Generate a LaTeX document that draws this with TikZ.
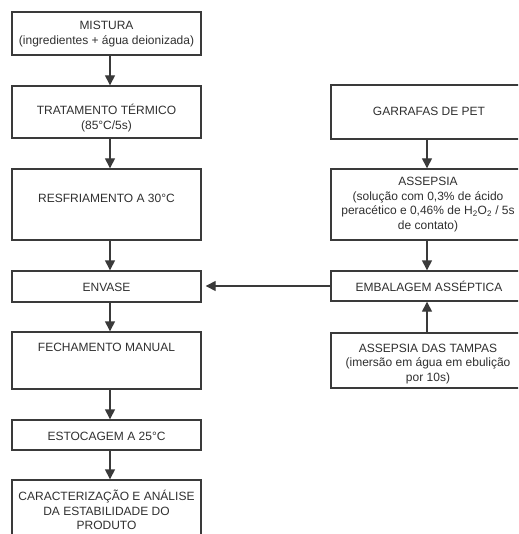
\documentclass[tikz,border=0pt]{standalone}
\usepackage{fontspec}
\setmainfont{Liberation Sans}
\usetikzlibrary{arrows.meta}
\definecolor{ln}{HTML}{3A3A3A}
\definecolor{tx}{HTML}{303030}
\begin{document}
\begin{tikzpicture}[x=1pt,y=-1pt,
  box/.style={draw=ln, line width=1.4pt, rectangle, inner sep=0pt},
  lbox/.style={box, minimum width=189pt},
  rbox/.style={box, minimum width=192pt},
  lbl/.style={text=tx, font=\fontsize{12}{14.5}\selectfont, align=center, inner sep=0pt},
  arr/.style={draw=ln, line width=1.4pt, -{Triangle[length=10pt,width=10pt]}}]
\clip (0,0) rectangle (518,534);
\fill[white] (0,0) rectangle (518,534);
% left column boxes
\node[lbox, minimum height=43pt] (b1) at (106.5,33.5) {};
\node[lbox, minimum height=52pt] (b2) at (106.5,112) {};
\node[lbox, minimum height=71pt] (b3) at (106.5,204.5) {};
\node[lbox, minimum height=31pt] (b4) at (106.5,286.5) {};
\node[lbox, minimum height=57pt] (b5) at (106.5,360.5) {};
\node[lbox, minimum height=30pt] (b6) at (106.5,435) {};
\node[lbox, minimum height=80pt] (b7) at (106.5,520) {};
% right column boxes
\node[rbox, minimum height=54pt] (r1) at (427,112) {};
\node[rbox, minimum height=71pt] (r2) at (427,204.5) {};
\node[rbox, minimum height=30pt] (r3) at (427,286) {};
\node[rbox, minimum height=55pt] (r4) at (427,360.5) {};
% labels
\node[lbl] (t1) at (106.5,34) {MISTURA\\(ingredientes + água deionizada)};
\node[lbl] (t2) at (106.5,118) {TRATAMENTO TÉRMICO\\(85°C/5s)};
\node[lbl] (t3) at (106.5,198) {RESFRIAMENTO A 30°C};
\node[lbl] (t4) at (106.5,287) {ENVASE};
\node[lbl] (t5) at (106.5,347) {FECHAMENTO MANUAL};
\node[lbl] (t6) at (106.5,436) {ESTOCAGEM A 25°C};
\node[lbl] (t7) at (106.5,510) {CARACTERIZAÇÃO E ANÁLISE\\DA ESTABILIDADE DO\\PRODUTO};
\node[lbl] (u1) at (429,111) {GARRAFAS DE PET};
\node[lbl] (u2) at (428,204.5) {ASSEPSIA\\(solução com 0,3\% de ácido\\peracético e 0,46\% de H\textsubscript{2}O\textsubscript{2} / 5s\\de contato)};
\node[lbl] (u3) at (429,286) {EMBALAGEM ASSÉPTICA};
\node[lbl] (u4) at (428,364) {ASSEPSIA DAS TAMPAS\\(imersão em água em ebulição\\por 10s)};
% arrows
\coordinate (lx) at (110,0);
\coordinate (rx) at (427,0);
\draw[arr] (b1.south -| lx) -- (b2.north -| lx);
\draw[arr] (b2.south -| lx) -- (b3.north -| lx);
\draw[arr] (b3.south -| lx) -- (b4.north -| lx);
\draw[arr] (b4.south -| lx) -- (b5.north -| lx);
\draw[arr] (b5.south -| lx) -- (b6.north -| lx);
\draw[arr] (b6.south -| lx) -- (b7.north -| lx);
\draw[arr] (r1.south -| rx) -- (r2.north -| rx);
\draw[arr] (r2.south -| rx) -- (r3.north -| rx);
\draw[arr] (r4.north -| rx) -- (r3.south -| rx);
\draw[arr, shorten >=4pt] (r3.west) -- (r3.west -| b4.east);
\end{tikzpicture}
\end{document}
